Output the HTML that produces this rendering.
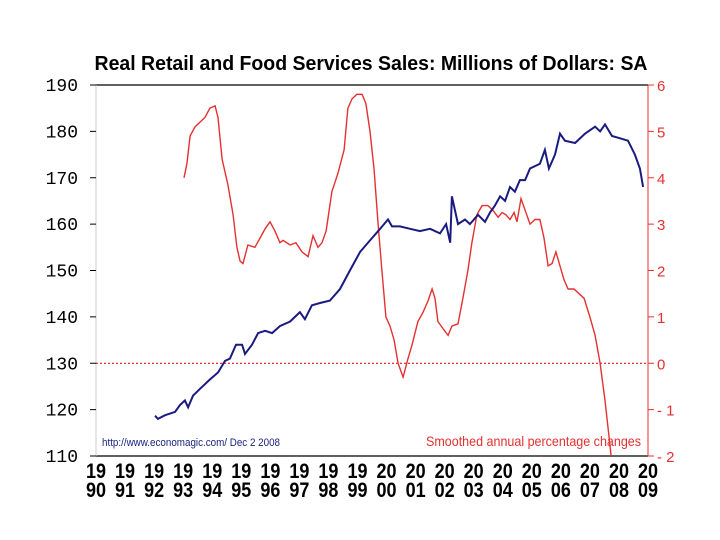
<!DOCTYPE html>
<html><head><meta charset="utf-8"><style>
body{margin:0;background:#fff;}
svg{display:block;}
</style></head><body>
<svg id="chart" width="720" height="540" viewBox="0 0 720 540" xmlns="http://www.w3.org/2000/svg">
<text x="371" y="70" text-anchor="middle" font-family="Liberation Sans, sans-serif" font-weight="bold" font-size="20" textLength="553" lengthAdjust="spacingAndGlyphs" fill="#000">Real Retail and Food Services Sales: Millions of Dollars: SA</text>
<g id="axes"></g>
<g id="series"></g>
<text x="102" y="446" font-family="Liberation Sans, sans-serif" font-size="11" fill="#1a237e" textLength="178" lengthAdjust="spacingAndGlyphs">http://www.economagic.com/   Dec 2 2008</text>
<text x="641" y="446" text-anchor="end" font-family="Liberation Sans, sans-serif" font-size="14" fill="#e53030" textLength="215" lengthAdjust="spacingAndGlyphs">Smoothed annual percentage changes</text>
</svg>
<script>
const leftTicks=[110,120,130,140,150,160,170,180,190];
const rightTicks=[-2,-1,0,1,2,3,4,5,6];
const yearTicks=[1990,1991,1992,1993,1994,1995,1996,1997,1998,1999,2000,2001,2002,2003,2004,2005,2006,2007,2008,2009];
const salesYears=[1992.03,1992.13,1992.38,1992.72,1992.89,1993.06,1993.17,1993.34,1993.58,1993.92,1994.20,1994.44,1994.61,1994.82,1995.03,1995.13,1995.37,1995.58,1995.82,1996.06,1996.33,1996.68,1997.02,1997.19,1997.43,1997.71,1998.05,1998.40,1998.74,1999.09,1999.43,1999.78,2000.05,2000.19,2000.46,2000.81,2001.15,2001.50,2001.84,2002.05,2002.19,2002.25,2002.46,2002.70,2002.87,2003.15,2003.39,2003.56,2003.73,2003.91,2004.08,2004.25,2004.42,2004.59,2004.77,2004.94,2005.28,2005.45,2005.59,2005.80,2005.97,2006.14,2006.49,2006.83,2007.18,2007.35,2007.52,2007.76,2008.04,2008.31,2008.55,2008.72,2008.83];
const salesValues=[118.7,118,118.8,119.5,121,122,120.5,123,124.5,126.5,128,130.5,131,134,134,132,134,136.5,137,136.5,138,139,141,139.5,142.5,143,143.5,146,150,154,156.5,159,161,159.5,159.5,159,158.5,159,158,160,156,166,160,161,160,162,160.5,162.5,164,166,165,168,167,169.5,169.5,172,173,176,172,175,179.5,178,177.5,179.5,181,180,181.5,179,178.5,178,175,172,168];
const pctYears=[1993.03,1993.13,1993.24,1993.41,1993.58,1993.75,1993.92,1994.10,1994.20,1994.34,1994.54,1994.72,1994.85,1994.96,1995.06,1995.23,1995.47,1995.65,1995.82,1995.99,1996.16,1996.33,1996.44,1996.68,1996.88,1997.09,1997.30,1997.47,1997.64,1997.78,1997.92,1998.12,1998.33,1998.54,1998.67,1998.81,1998.98,1999.16,1999.29,1999.43,1999.57,1999.71,1999.84,1999.98,2000.12,2000.26,2000.40,2000.57,2000.74,2000.88,2001.08,2001.26,2001.43,2001.57,2001.67,2001.77,2001.94,2002.12,2002.25,2002.46,2002.63,2002.80,2002.94,2003.11,2003.29,2003.49,2003.66,2003.84,2003.98,2004.11,2004.25,2004.39,2004.49,2004.63,2004.77,2004.94,2005.11,2005.28,2005.42,2005.56,2005.70,2005.83,2005.97,2006.11,2006.25,2006.45,2006.63,2006.80,2007.00,2007.18,2007.35,2007.52,2007.66,2007.73];
const pctValues=[4.0,4.3,4.9,5.1,5.2,5.3,5.5,5.55,5.3,4.4,3.85,3.2,2.5,2.2,2.15,2.55,2.5,2.7,2.9,3.05,2.85,2.6,2.65,2.55,2.6,2.4,2.3,2.75,2.5,2.6,2.85,3.7,4.1,4.6,5.5,5.7,5.8,5.8,5.6,5.0,4.2,3.0,2.0,1.0,0.8,0.5,0.0,-0.3,0.1,0.4,0.9,1.1,1.35,1.6,1.4,0.9,0.75,0.6,0.8,0.85,1.4,2.0,2.6,3.2,3.4,3.4,3.3,3.15,3.25,3.2,3.1,3.25,3.05,3.55,3.3,3.0,3.1,3.1,2.7,2.1,2.15,2.4,2.1,1.8,1.6,1.6,1.5,1.4,1.0,0.6,0.0,-0.8,-1.6,-2.0];

const L=96,R=648,T=85,B=456,NS='http://www.w3.org/2000/svg';
const xS=y=>L+(y-1990)/(2009-1990)*(R-L);
const yL=v=>B-(v-110)/(190-110)*(B-T);
const yR=v=>B-(v+2)/8*(B-T);
const axes=document.getElementById('axes'),ser=document.getElementById('series');
function mk(tag,attrs,parent,txt){const e=document.createElementNS(NS,tag);for(const k in attrs)e.setAttribute(k,attrs[k]);if(txt!==undefined)e.textContent=txt;parent.appendChild(e);return e;}
// clip
const defs=mk('defs',{},axes);const cp=mk('clipPath',{id:'clip'},defs);mk('rect',{x:L,y:T-3,width:R-L,height:B-T+3},cp);
let e;
e=mk('line',{x1:L,y1:T,x2:R,y2:T,stroke:'#000','stroke-width':1.2},axes);


e=mk('line',{x1:L,y1:B,x2:R,y2:B,stroke:'#000','stroke-width':1.2},axes);


e=mk('line',{x1:L,y1:T,x2:L,y2:B,stroke:'#ccc','stroke-width':1},axes);


e=mk('line',{x1:R,y1:T,x2:R,y2:B,stroke:'#e53030','stroke-width':1},axes);


e=mk('line',{x1:L,y1:yR(0),x2:R,y2:yR(0),stroke:'#c00','stroke-width':1,'stroke-dasharray':'2,2'},axes);


leftTicks.forEach(v=>{
 const t=mk('text',{x:78,y:yL(v)+6,'text-anchor':'end','font-family':'Liberation Mono, monospace','font-size':18,fill:'#000'},axes,String(v));
 
 
 const tk=mk('line',{x1:L-6,y1:yL(v),x2:L,y2:yL(v),stroke:'#000'},axes);
 
 
});
rightTicks.forEach(v=>{
 const t=mk('text',{x:657,y:yR(v)+6,'font-family':'Liberation Sans, sans-serif','font-size':15,fill:'#e53030'},axes,(v<0?'- '+Math.abs(v):String(v)));
 
 
 const tk=mk('line',{x1:R,y1:yR(v),x2:R+6,y2:yR(v),stroke:'#e53030'},axes);
 
 
});
yearTicks.forEach(y=>{
 const s=String(y);
 const g=mk('text',{'text-anchor':'middle','font-family':'Liberation Sans, sans-serif','font-weight':'bold','font-size':21,fill:'#000'},axes);
 
 
 const x=xS(y);
 mk('tspan',{x:x,y:478,textLength:20,lengthAdjust:'spacingAndGlyphs'},g,s.slice(0,2));
 mk('tspan',{x:x,y:497,textLength:20,lengthAdjust:'spacingAndGlyphs'},g,s.slice(2));
});
const pctPath=mk('path',{d:pctYears.map((y,i)=>(i?'L':'M')+xS(y).toFixed(1)+' '+yR(pctValues[i]).toFixed(1)).join(''),fill:'none',stroke:'#e53030','stroke-width':1.4,'clip-path':'url(#clip)'},ser);


const salesPath=mk('path',{d:salesYears.map((y,i)=>(i?'L':'M')+xS(y).toFixed(1)+' '+yL(salesValues[i]).toFixed(1)).join(''),fill:'none',stroke:'#1a1a80','stroke-width':2},ser);


</script>
</body></html>
